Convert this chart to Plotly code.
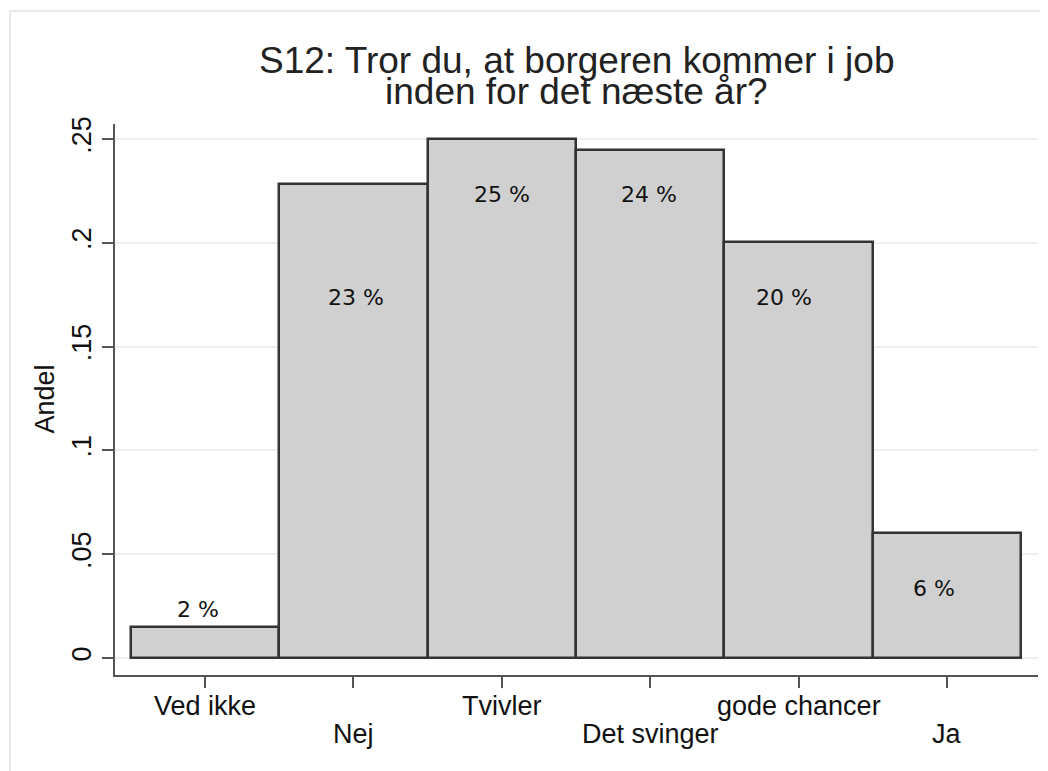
import plotly.graph_objects as go

# ---- data ----
categories = ["Ved ikke", "Nej", "Tvivler", "Det svinger", "gode chancer", "Ja"]
shares = [0.0150, 0.2283, 0.2500, 0.2445, 0.2004, 0.0602]
pct_labels = ["2 %", "23 %", "25 %", "24 %", "20 %", "6 %"]
y_tickvals = [0, 0.05, 0.10, 0.15, 0.20, 0.25]
y_ticktext = ["0", ".05", ".1", ".15", ".2", ".25"]

# ---- label placement (style, relative to bars) ----
label_dy = [0.0084, -0.0549, -0.0268, -0.0213, -0.0270, -0.0265]
label_dx = [-0.05, 0.02, 0.0, -0.01, -0.10, -0.09]
row_shift = [-31, -59]  # alternating tick-label rows (pixels)

xs = list(range(1, len(categories) + 1))

OFF = 8  # page body margin
W, H = 1040, 763
# plot area in screen pixels: x 115..1038, y 124..675
ML = 115 - OFF
MT = 124 - OFF
MR = W - (1038 - OFF)
MB = H - (675 - OFF)
pw, ph = W - ML - MR, H - MT - MB

def px_x(p):  # screen px -> paper
    return (p - OFF - ML) / pw

def px_y(p):
    return (H - MB - (p - OFF)) / ph

TXT = "#111111"
AX = "#555555"

fig = go.Figure()
fig.add_trace(go.Bar(
    x=xs, y=shares, width=1,
    marker=dict(color="#d0d0d0", line=dict(color="#333333", width=2.5)),
    hoverinfo="skip", showlegend=False,
))

annotations = []
for i, (x, v) in enumerate(zip(xs, shares)):
    annotations.append(dict(
        x=x + label_dx[i], y=v + label_dy[i], xref="x", yref="y",
        text=pct_labels[i], showarrow=False, xanchor="center", yanchor="middle",
        font=dict(family="DejaVu Sans", size=22, color=TXT),
    ))
for i, (x, c) in enumerate(zip(xs, categories)):
    annotations.append(dict(
        x=x, y=0, xref="x", yref="paper", text=c, showarrow=False,
        xanchor="center", yanchor="middle", yshift=row_shift[i % 2],
        font=dict(family="Liberation Sans", size=27, color=TXT),
    ))
# title (two lines, tight spacing as in the reference)
annotations.append(dict(
    x=0.5, y=px_y(60), xref="paper", yref="paper", showarrow=False,
    text="S12: Tror du, at borgeren kommer i job", xanchor="center", yanchor="middle",
    font=dict(family="Liberation Sans", size=37, color="#222222"),
))
annotations.append(dict(
    x=0.5, y=px_y(91), xref="paper", yref="paper", showarrow=False,
    text="inden for det næste år?", xanchor="center", yanchor="middle",
    font=dict(family="Liberation Sans", size=37, color="#222222"),
))
# y axis title
annotations.append(dict(
    x=px_x(44), y=0.5, xref="paper", yref="paper", showarrow=False,
    text="Andel", textangle=-90, xanchor="center", yanchor="middle",
    font=dict(family="Liberation Sans", size=27, color=TXT),
))

fig.update_layout(
    width=W, height=H,
    margin=dict(l=ML, r=MR, t=MT, b=MB),
    paper_bgcolor="white", plot_bgcolor="white",
    annotations=annotations,
    shapes=[dict(
        type="rect", xref="paper", yref="paper",
        x0=px_x(10), x1=px_x(1090), y0=px_y(820), y1=px_y(11),
        line=dict(color="#e8e8e8", width=2), fillcolor="rgba(0,0,0,0)", layer="below",
    )],
    bargap=0,
)
fig.update_xaxes(
    range=[0.3935, 6.613], showgrid=False, zeroline=False,
    showline=True, linecolor=AX, linewidth=1.5,
    ticks="outside", ticklen=11, tickcolor=AX, tickwidth=1.5,
    tickvals=xs, showticklabels=False,
)
fig.update_yaxes(
    range=[-0.0082, 0.2572], tickvals=y_tickvals, ticktext=y_ticktext, tickangle=-90,
    showgrid=True, gridcolor="#efefef", gridwidth=1.5, zeroline=False,
    showline=True, linecolor=AX, linewidth=1.5,
    ticks="outside", ticklen=11, tickcolor=AX, tickwidth=1.5,
    tickfont=dict(family="Liberation Sans", size=27, color=TXT),
)

fig.write_html("out.html")
